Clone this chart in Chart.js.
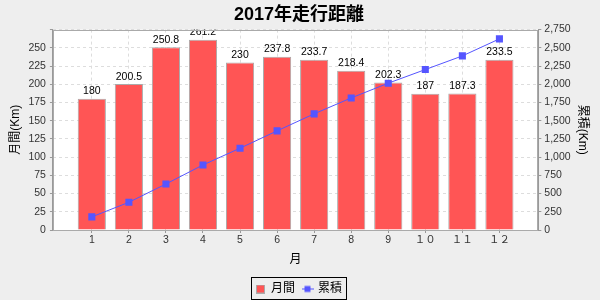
<!DOCTYPE html>
<html>
<head>
<meta charset="utf-8">
<script src="https://cdn.jsdelivr.net/npm/chart.js@4"></script>
<style>
  html, body { margin: 0; padding: 0; background: #eeeeee; }
  #wrap { width: 600px; height: 300px; }
</style>
</head>
<body>
<div id="wrap"><canvas id="myChart" width="600" height="300"></canvas></div>
<script>
// data
var months = ['1', '2', '3', '4', '5', '6', '7', '8', '9', '１０', '１１', '１２'];
var monthly = [180, 200.5, 250.8, 261.2, 230, 237.8, 233.7, 218.4, 202.3, 187, 187.3, 233.5];
var cumulative = [180, 380.5, 631.3, 892.5, 1122.5, 1360.3, 1594, 1812.4, 2014.7, 2201.7, 2389, 2622.5];

var FONT = "'Liberation Sans', 'Noto Sans CJK JP', sans-serif";
var RED = '#ff5555';
var BLUE = '#5555ff';

function makeIcon(kind) {
  var c = document.createElement('canvas');
  c.width = kind == 'line' ? 12 : 9;
  c.height = 9;
  var g = c.getContext('2d');
  if (kind == 'line') {
    g.strokeStyle = BLUE;
    g.lineWidth = 1;
    g.beginPath(); g.moveTo(0, 4.5); g.lineTo(12, 4.5); g.stroke();
    g.fillStyle = BLUE;
    g.fillRect(3, 1.5, 6, 6);
  } else {
    g.fillStyle = RED;
    g.fillRect(1, 1, 7, 7);
    g.strokeStyle = '#aaaaaa';
    g.strokeRect(0.5, 0.5, 8, 8);
  }
  return c;
}

var plotFrame = {
  id: 'plotFrame',
  beforeDraw: function (chart) {
    var a = chart.chartArea, ctx = chart.ctx;
    ctx.save();
    ctx.fillStyle = '#ffffff';
    ctx.fillRect(a.left, a.top, a.right - a.left, a.bottom - a.top);
    ctx.restore();
  },
  afterDraw: function (chart) {
    var a = chart.chartArea, ctx = chart.ctx;
    ctx.save();
    ctx.strokeStyle = '#aaaaaa';
    ctx.lineWidth = 1;
    ctx.strokeRect(Math.round(a.left) + 0.5, Math.round(a.top) + 0.5,
      Math.round(a.right - a.left) - 1, Math.round(a.bottom - a.top));
    // frame around legend
    var boxes = chart.legend.legendHitBoxes;
    if (boxes && boxes.length) {
      var l = Math.min.apply(null, boxes.map(function (b) { return b.left; }));
      var r = Math.max.apply(null, boxes.map(function (b) { return b.left + b.width; }));
      var t = Math.min.apply(null, boxes.map(function (b) { return b.top; }));
      var h = Math.max.apply(null, boxes.map(function (b) { return b.height; }));
      ctx.strokeStyle = '#000000';
      ctx.strokeRect(Math.round(l) - 4.5, Math.round(t) - 5.5, Math.round(r - l) + 9, Math.round(h) + 10);
    }
    ctx.restore();
  }
};

var barLabels = {
  id: 'barLabels',
  afterDatasetsDraw: function (chart) {
    var ctx = chart.ctx, a = chart.chartArea;
    var meta = chart.getDatasetMeta(0);
    ctx.save();
    ctx.beginPath();
    ctx.rect(a.left, a.top, a.right - a.left, a.bottom - a.top);
    ctx.clip();
    ctx.font = '10.5px ' + FONT;
    ctx.fillStyle = '#000000';
    ctx.textAlign = 'center';
    ctx.textBaseline = 'bottom';
    meta.data.forEach(function (bar, i) {
      ctx.fillText(String(monthly[i]), bar.x, bar.y - 2);
    });
    ctx.restore();
  }
};

var ctx = document.getElementById('myChart').getContext('2d');
var myChart = new Chart(ctx, {
  type: 'bar',
  data: {
    datasets: [{
      type: 'bar',
      label: '月間',
      data: monthly.map(function (v, i) { return { x: i + 1, y: v }; }),
      backgroundColor: RED,
      borderColor: '#aaaaaa',
      borderWidth: 1,
      barPercentage: 0.76,
      categoryPercentage: 1,
      yAxisID: 'y',
      order: 2
    }, {
      type: 'line',
      label: '累積',
      data: cumulative.map(function (v, i) { return { x: i + 1, y: v }; }),
      borderColor: BLUE,
      backgroundColor: BLUE,
      borderWidth: 1,
      pointStyle: 'rect',
      pointRadius: 5,
      pointBorderWidth: 0,
      yAxisID: 'y2',
      order: 1
    }]
  },
  options: {
    responsive: false,
    animation: false,
    events: [],
    layout: { padding: { left: 6, right: 8, top: 0, bottom: -5 } },
    scales: {
      x: {
        type: 'linear',
        offset: false,
        min: -0.05,
        max: 13.05,
        afterBuildTicks: function (scale) {
          scale.ticks = months.map(function (m, i) { return { value: i + 1 }; });
        },
        ticks: {
          font: { family: FONT, size: 10.5 },
          color: '#333333',
          padding: 1,
          callback: function (v) { return months[v - 1]; }
        },
        grid: { offset: false, color: '#dddddd', tickColor: '#999999', tickLength: 3, tickBorderDash: [] },
        border: { color: '#999999', dash: [3, 3] },
        title: { display: true, text: '月', font: { family: FONT, size: 12 }, color: '#000000', padding: { top: 5, bottom: 8 } }
      },
      y: {
        position: 'left',
        min: 0,
        max: 275,
        ticks: {
          stepSize: 25,
          font: { family: FONT, size: 10.5 },
          color: '#333333',
          padding: 4,
          callback: function (v) { return v > 250 ? '' : v; }
        },
        grid: { color: '#dddddd', tickColor: '#999999', tickLength: 3, tickBorderDash: [] },
        border: { color: '#999999', dash: [3, 3] },
        title: { display: true, text: '月間(Km)', font: { family: FONT, size: 12 }, color: '#000000', padding: 2 }
      },
      y2: {
        position: 'right',
        min: 0,
        max: 2750,
        ticks: {
          stepSize: 250,
          font: { family: FONT, size: 10.5 },
          color: '#333333',
          padding: 3
        },
        grid: { drawOnChartArea: false, tickColor: '#999999', tickLength: 3 },
        border: { color: '#999999' },
        title: { display: true, text: '累積(Km)', font: { family: FONT, size: 12 }, color: '#000000', padding: 2 }
      }
    },
    plugins: {
      title: {
        display: true,
        text: '2017年走行距離',
        color: '#000000',
        font: { family: FONT, size: 18, weight: 'bold' },
        padding: { top: 4, bottom: 4 }
      },
      legend: {
        position: 'bottom',
        labels: {
          usePointStyle: true,
          pointStyleWidth: 9,
          boxHeight: 9,
          font: { family: FONT, size: 12 },
          color: '#000000',
          padding: 8,
          sort: function (a, b) { return a.datasetIndex - b.datasetIndex; },
          generateLabels: function (chart) {
            var items = Chart.defaults.plugins.legend.labels.generateLabels(chart);
            items.forEach(function (it) {
              it.pointStyle = makeIcon(it.datasetIndex == 1 ? 'line' : 'bar');
            });
            return items;
          }
        }
      },
      tooltip: { enabled: false }
    }
  },
  plugins: [plotFrame, barLabels]
});
</script>
</body>
</html>
